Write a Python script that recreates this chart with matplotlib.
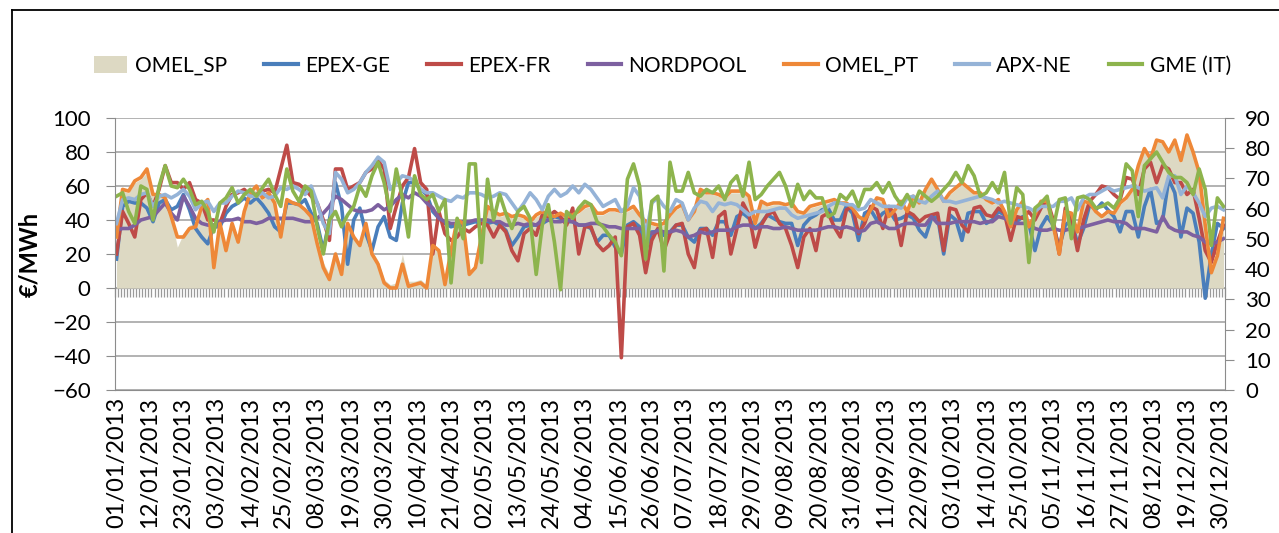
import numpy as np
import pandas as pd
import matplotlib
matplotlib.use('Agg')
import matplotlib.pyplot as plt
from matplotlib.lines import Line2D
from matplotlib.patches import Patch

# daily prices 2013, every second day (EUR/MWh)
days = pd.date_range('2013-01-01', '2013-12-31', freq='D')
step = 2

omel_sp = [32, 57, 56, 62, 64, 68, 54, 55, 52, 42, 24, 32, 37, 38, 48, 51, 14, 40, 24, 38, 30, 46, 55, 58, 52, 55, 50, 32, 52, 50, 48,
           45, 42, 28, 15, 8, 22, 12, 38, 31, 26, 38, 22, 16, 5, 2, 3, 20, 4, 4, 5, 2, 25, 22, 4, 24, 40, 37, 10, 14, 30,
           47, 44, 42, 43, 41, 42, 41, 38, 42, 44, 42, 41, 43, 41, 42, 44, 47, 48, 43, 43, 45, 45, 44, 45, 47, 42, 38, 37, 36,
           37, 42, 46, 48, 39, 44, 57, 55, 55, 54, 52, 56, 56, 56, 53, 37, 50, 48, 49, 49, 48, 49, 44, 43, 47, 48, 49, 50, 51, 49,
           49, 46, 41, 39, 45, 52, 51, 41, 45, 50, 44, 53, 49, 57, 63, 57, 50, 55, 58, 61, 58, 55, 55, 51, 49, 51, 44, 35, 45, 50,
           35, 42, 50, 50, 36, 19, 44, 43, 32, 50, 49, 44, 41, 44, 43, 49, 52, 57, 71, 81, 75, 86, 85, 79, 86, 74, 89, 79, 67, 38, 12, 22, 42]

epex_ge = [17, 48, 51, 50, 50, 47, 39, 50, 52, 46, 48, 55, 46, 35, 30, 26, 36, 36, 44, 48, 50, 53, 50, 53, 49, 44, 36, 33, 50, 50, 49,
           52, 44, 38, 22, 40, 62, 48, 14, 40, 47, 32, 22, 36, 42, 30, 28, 50, 62, 62, 58, 55, 45, 41, 38, 36, 37, 37, 38, 39, 38,
           38, 39, 37, 34, 25, 30, 36, 37, 37, 38, 40, 42, 41, 39, 39, 37, 37, 35, 27, 31, 31, 24, 20, 37, 39, 36, 22, 33, 33,
           31, 33, 37, 37, 30, 27, 35, 35, 31, 39, 39, 31, 42, 44, 41, 35, 38, 43, 41, 39, 38, 38, 25, 37, 41, 43, 46, 47, 40, 40,
           48, 44, 28, 44, 46, 40, 44, 46, 40, 41, 43, 41, 34, 30, 41, 42, 20, 43, 40, 28, 44, 45, 45, 38, 40, 45, 43, 40, 39, 42,
           38, 22, 36, 42, 37, 24, 37, 40, 26, 35, 49, 46, 50, 46, 42, 33, 45, 45, 30, 48, 58, 38, 40, 64, 56, 30, 47, 44, 27, -6, 20, 38, 35]

epex_fr = [20, 45, 38, 30, 52, 56, 48, 58, 72, 62, 62, 58, 62, 52, 50, 40, 40, 38, 48, 55, 56, 58, 54, 55, 57, 58, 56, 70, 84, 62, 61,
           58, 54, 50, 40, 28, 70, 70, 58, 60, 62, 68, 70, 75, 70, 35, 48, 60, 65, 82, 62, 58, 20, 45, 32, 28, 30, 35, 33, 36, 38,
           37, 30, 37, 33, 22, 16, 32, 35, 31, 43, 42, 45, 42, 37, 47, 20, 36, 36, 26, 22, 25, 30, -41, 36, 38, 31, 9, 28, 35,
           22, 32, 37, 38, 20, 12, 34, 35, 18, 42, 45, 20, 35, 50, 43, 24, 37, 43, 45, 38, 35, 25, 12, 30, 35, 22, 42, 44, 36, 30,
           46, 48, 32, 38, 48, 46, 35, 48, 43, 25, 45, 43, 39, 42, 43, 44, 22, 47, 46, 37, 33, 47, 48, 43, 42, 47, 44, 28, 42, 41,
           45, 40, 47, 52, 40, 20, 47, 40, 22, 40, 51, 55, 60, 59, 55, 52, 65, 64, 55, 70, 74, 62, 72, 70, 62, 62, 55, 58, 41, 22, 15, 27, 37]

nordpool = [34, 35, 35, 37, 40, 41, 42, 46, 50, 44, 40, 54, 48, 41, 38, 37, 37, 39, 40, 40, 41, 39, 39, 38, 39, 41, 41, 41, 41, 41, 40,
            39, 39, 41, 44, 48, 54, 52, 49, 46, 45, 45, 46, 49, 46, 48, 52, 55, 53, 56, 54, 50, 47, 41, 39, 38, 38, 39, 39, 40, 40,
            40, 39, 39, 37, 37, 38, 37, 38, 37, 40, 40, 39, 39, 40, 39, 37, 37, 38, 38, 37, 36, 36, 35, 35, 35, 35, 34, 32, 34,
            33, 33, 34, 33, 30, 31, 33, 32, 33, 34, 34, 34, 36, 37, 37, 35, 36, 36, 35, 35, 36, 35, 34, 34, 34, 34, 35, 36, 36, 35,
            36, 35, 33, 34, 38, 39, 37, 35, 35, 37, 38, 38, 37, 37, 42, 38, 38, 38, 39, 39, 39, 39, 38, 39, 39, 42, 41, 39, 38, 38,
            38, 35, 34, 34, 35, 34, 34, 35, 35, 36, 37, 38, 39, 40, 39, 39, 38, 35, 35, 35, 34, 33, 42, 36, 34, 33, 33, 31, 30, 27, 26, 27, 29]

omel_pt = [30, 58, 57, 63, 65, 70, 55, 55, 53, 42, 30, 30, 35, 36, 48, 52, 12, 38, 22, 38, 27, 45, 56, 60, 53, 56, 50, 30, 52, 50, 49,
           46, 42, 26, 12, 5, 20, 8, 38, 30, 25, 38, 20, 14, 3, 0, 0, 14, 1, 2, 3, 0, 25, 22, 2, 22, 40, 38, 8, 12, 30,
           48, 45, 43, 44, 42, 43, 42, 39, 43, 45, 43, 42, 44, 42, 43, 45, 48, 49, 44, 44, 46, 46, 45, 46, 48, 43, 39, 38, 37,
           38, 43, 47, 49, 40, 45, 58, 56, 56, 55, 53, 57, 57, 57, 54, 38, 51, 49, 50, 50, 49, 50, 45, 44, 48, 49, 50, 51, 52, 50,
           50, 47, 42, 40, 46, 53, 52, 42, 46, 51, 45, 54, 50, 58, 64, 58, 51, 56, 59, 62, 59, 56, 56, 52, 50, 52, 45, 36, 46, 51,
           36, 43, 51, 51, 37, 20, 45, 44, 33, 51, 50, 45, 42, 45, 44, 50, 53, 58, 72, 82, 76, 87, 86, 80, 87, 75, 90, 80, 68, 37, 9, 19, 41]

apx_ne = [38, 52, 53, 52, 55, 56, 48, 54, 55, 53, 55, 58, 54, 46, 50, 51, 45, 50, 50, 54, 57, 56, 54, 54, 56, 53, 54, 59, 58, 60, 58,
          55, 60, 50, 38, 32, 68, 64, 56, 58, 62, 68, 72, 77, 74, 58, 62, 66, 65, 63, 58, 56, 56, 54, 52, 51, 54, 53, 56, 56, 55,
          53, 54, 56, 55, 50, 45, 50, 56, 52, 46, 54, 58, 54, 56, 60, 56, 61, 58, 53, 48, 50, 52, 45, 48, 59, 54, 30, 50, 53,
          48, 45, 52, 50, 40, 47, 51, 50, 45, 50, 49, 50, 49, 46, 43, 45, 45, 45, 46, 47, 47, 43, 41, 42, 43, 44, 45, 48, 50, 50,
          49, 49, 46, 47, 52, 50, 48, 48, 48, 47, 53, 54, 51, 50, 54, 57, 51, 51, 50, 51, 52, 53, 54, 53, 52, 50, 51, 50, 49, 48,
          47, 45, 48, 48, 48, 51, 51, 53, 46, 53, 55, 55, 57, 59, 57, 58, 59, 60, 59, 57, 58, 59, 53, 66, 66, 55, 60, 56, 50, 42, 47, 48, 46]

gme_it = [54, 56, 45, 38, 60, 58, 40, 60, 72, 60, 59, 64, 58, 49, 51, 45, 33, 50, 53, 59, 50, 55, 58, 54, 59, 64, 55, 48, 70, 57, 51,
          60, 57, 36, 20, 40, 45, 36, 43, 48, 60, 54, 66, 74, 62, 45, 70, 53, 30, 66, 55, 52, 55, 45, 52, 3, 41, 29, 73, 73, 15,
          64, 40, 55, 44, 35, 45, 48, 41, 8, 37, 49, 27, -1, 45, 41, 47, 51, 49, 39, 36, 31, 27, 19, 64, 73, 60, 17, 51, 54,
          10, 74, 57, 57, 68, 56, 54, 58, 56, 60, 52, 62, 66, 54, 74, 52, 55, 60, 64, 68, 60, 48, 61, 52, 57, 53, 53, 42, 44, 55,
          52, 57, 48, 58, 58, 62, 56, 62, 54, 49, 55, 48, 57, 54, 51, 54, 58, 62, 68, 62, 72, 66, 54, 56, 62, 56, 68, 38, 59, 55,
          15, 47, 50, 54, 35, 52, 53, 29, 53, 54, 52, 47, 48, 50, 47, 53, 73, 69, 42, 72, 76, 80, 74, 68, 65, 65, 62, 55, 70, 58, 25, 53, 48]

line_series = [('EPEX-GE', epex_ge, '#4A7EBB'),
               ('EPEX-FR', epex_fr, '#BE4B48'),
               ('NORDPOOL', nordpool, '#7D60A0'),
               ('OMEL_PT', omel_pt, '#EE8838'),
               ('APX-NE', apx_ne, '#95B3D7'),
               ('GME (IT)', gme_it, '#8DB44D')]

x = np.arange(0, len(days), step)
tick_idx = np.arange(0, len(days), 11)
tick_labels = days[tick_idx].strftime('%d/%m/%Y')

plt.rcParams['font.family'] = ['Lato', 'DejaVu Sans']
grey = '#8c8c8c'

fig = plt.figure(figsize=(12.79, 5.33), dpi=100)
ax = fig.add_axes([115/1279, 143/533, 1110/1279, 272/533])

ax.fill_between(x, 0, omel_sp, color='#DDD9C3', lw=0, zorder=1)
for name, vals, col in line_series:
    ax.plot(x, vals, color=col, lw=2.6, zorder=2, solid_joinstyle='round')

ax.set_xlim(-0.5, len(days) - 0.5)
ax.set_ylim(-60, 100)
ax.set_yticks(np.arange(-60, 101, 20))
ax.yaxis.grid(True, color='#a6a6a6', lw=1.2)
ax.set_axisbelow(True)
ax.set_xticks(tick_idx)
ax.set_xticklabels(tick_labels, rotation=90, fontsize=17)
ax.tick_params(axis='x', length=0, pad=5)
ax.tick_params(axis='y', length=6.5, color=grey, labelsize=16, pad=11)
for s in ['top', 'right']:
    ax.spines[s].set_visible(False)
for s in ['left', 'bottom']:
    ax.spines[s].set_color(grey)

# category tick strip at zero
sec = ax.secondary_xaxis((0 + 60) / 160)
sec.set_xticks(np.arange(-0.5, len(days), 1))
sec.tick_params(axis='x', length=6.5, width=0.9, color='#9a9a9a', labelbottom=False, labeltop=False)
sec.spines['bottom'].set_color('#9a9a9a')

ax2 = ax.twinx()
ax2.set_ylim(0, 90)
ax2.set_yticks(np.arange(0, 91, 10))
ax2.tick_params(axis='y', length=6.5, color=grey, labelsize=16, pad=8)
for s in ['top', 'left', 'bottom']:
    ax2.spines[s].set_visible(False)
ax2.spines['right'].set_color(grey)

handles = [Patch(facecolor='#DDD9C3', edgecolor='none')]
handles += [Line2D([], [], color=c, lw=3) for _, _, c in line_series]
labels = ['OMEL_SP'] + [n for n, _, _ in line_series]
fig.legend(handles, labels, loc='center', bbox_to_anchor=(0.518, 1 - 66/533), ncol=7,
           frameon=False, fontsize=15, handlelength=1.6, handleheight=0.9,
           handletextpad=0.35, columnspacing=1.8)

fig.text(30/1279, 1 - 254/533, '€/MWh', rotation=90, ha='center', va='center',
         fontsize=17, fontweight='bold')

fig.add_artist(Line2D([12/1279, 1], [1 - 10/533, 1 - 10/533], color='black', lw=1.3))
fig.add_artist(Line2D([12/1279, 12/1279], [0, 1 - 10/533], color='black', lw=1.3))

fig.savefig('out.png', dpi=100)
